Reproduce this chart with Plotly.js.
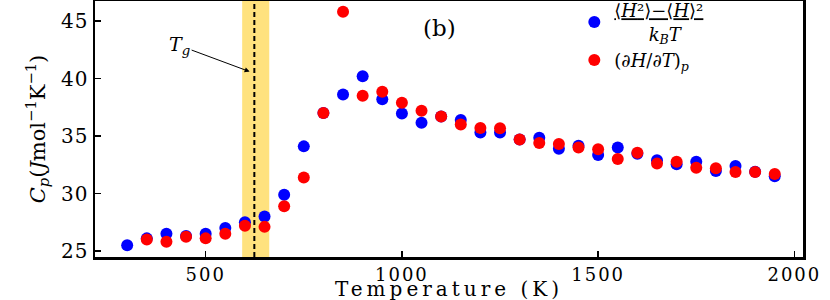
<!DOCTYPE html>
<html>
<head>
<meta charset="utf-8">
<script src="https://cdn.plot.ly/plotly-3.0.1.min.js"></script>
<style>
  html, body { margin: 0; padding: 0; background: #fff; }
  #chart { width: 830px; height: 300px; }
</style>
</head>
<body>
<div id="chart"></div>
<script>
// Temperatures (K)
const tempFluct = [300, 350, 400, 450, 500, 550, 600, 650, 700, 750, 800, 850, 900, 950,
  1000, 1050, 1100, 1150, 1200, 1250, 1300, 1350, 1400, 1450, 1500, 1550, 1600, 1650,
  1700, 1750, 1800, 1850, 1900, 1950];
// Cp from enthalpy fluctuations (blue)
const cpFluct = [25.5, 26.1, 26.5, 26.3, 26.5, 27.0, 27.5, 28.0, 29.9, 34.1, 37.0, 38.6, 40.2, 38.2,
  36.95, 36.15, 36.7, 36.4, 35.3, 35.3, 34.7, 34.85, 33.9, 34.15, 33.35, 34.0, 33.45, 32.9,
  32.55, 32.77, 31.96, 32.4, 31.9, 31.5];

const tempDeriv = [350, 400, 450, 500, 550, 600, 650, 700, 750, 800, 850, 900, 950,
  1000, 1050, 1100, 1150, 1200, 1250, 1300, 1350, 1400, 1450, 1500, 1550, 1600, 1650,
  1700, 1750, 1800, 1850, 1900, 1950];
// Cp from dH/dT (red)
const cpDeriv = [26.0, 25.8, 26.25, 26.1, 26.5, 27.2, 27.1, 28.9, 31.4, 37.0, 45.8, 38.5, 38.85,
  37.9, 37.2, 36.7, 36.0, 35.7, 35.67, 34.7, 34.4, 34.3, 34.0, 33.85, 33.0, 33.55, 32.6,
  32.77, 32.25, 32.2, 31.87, 31.87, 31.7];

const xTicks = [500, 1000, 1500, 2000];
const yTicks = [25, 30, 35, 40, 45];
const tgBand = [593, 662];
const tgLine = 624;
const tgLabelPos = [612, 40.6];
const panelLabelPos = [1095, 44.4];

const serif = 'DejaVu Serif, Liberation Serif, serif';
const wide = (s, ls) => '<span style="letter-spacing:' + ls + 'px">' + s + '</span>';

const traces = [
  {
    x: tempFluct, y: cpFluct, type: 'scatter', mode: 'markers',
    name: '<u>⟨<i>H</i>²⟩−⟨<i>H</i>⟩²</u><br>      <i>k</i><sub><i>B</i></sub><i>T</i>',
    marker: { color: '#0000ff', size: 12 }
  },
  {
    x: tempDeriv, y: cpDeriv, type: 'scatter', mode: 'markers',
    name: '(∂<i>H</i>/∂<i>T</i>)<sub><i>p</i></sub>',
    marker: { color: '#ff0000', size: 12 }
  }
];

const layout = {
  width: 830, height: 300,
  margin: { l: 95, r: 27, t: 1, b: 43, autoexpand: false },
  paper_bgcolor: '#fff', plot_bgcolor: '#fff',
  font: { family: serif, color: '#000' },
  showlegend: true,
  legend: {
    x: 0.677, xanchor: 'left', y: 1.035, yanchor: 'top',
    bgcolor: 'rgba(255,255,255,0)', font: { family: serif, size: 18 },
    tracegroupgap: 0
  },
  xaxis: {
    range: [218, 2022], tickvals: xTicks, ticktext: xTicks.map(v => wide(String(v), 2)),
    ticks: 'inside', ticklen: 6, tickwidth: 1.5, tickcolor: '#000',
    showline: true, mirror: true, linewidth: 2.5, linecolor: '#000',
    showgrid: false, zeroline: false, automargin: false,
    tickfont: { family: serif, size: 18 }
  },
  yaxis: {
    range: [24.48, 46.74], tickvals: yTicks, ticktext: yTicks.map(v => wide(String(v), 1)),
    ticks: 'inside', ticklen: 6, tickwidth: 1.5, tickcolor: '#000',
    showline: true, mirror: true, linewidth: 2.5, linecolor: '#000',
    showgrid: false, zeroline: false, automargin: false,
    tickfont: { family: serif, size: 20 },
    title: { text: '<i>C</i><sub><i>p</i></sub>(<i>J</i>mol<sup>−1</sup>K<sup>−1</sup>)', font: { family: serif, size: 21 }, standoff: 10 }
  },
  shapes: [
    { type: 'rect', xref: 'x', yref: 'paper', x0: tgBand[0], x1: tgBand[1], y0: 0, y1: 1,
      fillcolor: '#ffe27e', line: { width: 0 }, layer: 'below' },
    { type: 'line', xref: 'x', yref: 'paper', x0: tgLine, x1: tgLine, y0: 0, y1: 1,
      line: { color: '#000', width: 2, dash: '5px,3px' }, layer: 'below' }
  ],
  annotations: [
    { x: tgLabelPos[0], y: tgLabelPos[1], xref: 'x', yref: 'y',
      text: '<i>T</i><sub><i>g</i></sub>', showarrow: true, arrowhead: 2, arrowsize: 1,
      arrowwidth: 1, arrowcolor: '#000', ax: -70, ay: -26, font: { family: serif, size: 19 } },
    { x: panelLabelPos[0], y: panelLabelPos[1], xref: 'x', yref: 'y',
      text: '(b)', showarrow: false, font: { family: serif, size: 23 } },
    { x: 0.5, y: -0.125, xref: 'paper', yref: 'paper', xanchor: 'center', yanchor: 'middle',
      text: wide('Temperature (K)', 4), showarrow: false, font: { family: serif, size: 20 } }
  ]
};

Plotly.newPlot('chart', traces, layout, { displayModeBar: false, staticPlot: true });
</script>
</body>
</html>
